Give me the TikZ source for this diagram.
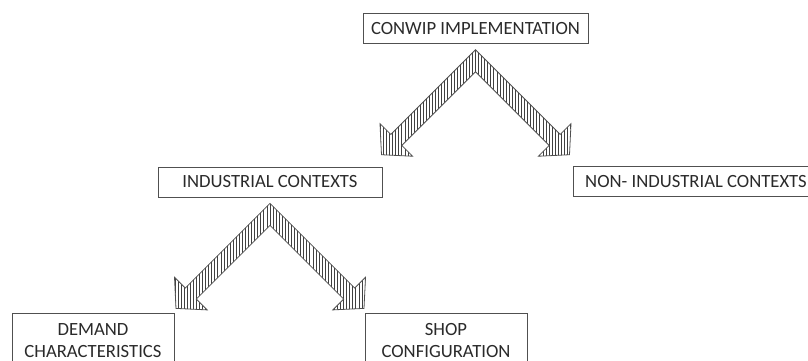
\documentclass[tikz,border=0pt]{standalone}
\usepackage{fontspec}
\setmainfont{Carlito}
\usetikzlibrary{positioning,calc,patterns.meta}

\definecolor{boxline}{HTML}{505050}
\definecolor{boxtext}{HTML}{2A2A2A}

\begin{document}
\begin{tikzpicture}[x=0.75pt,y=-0.75pt,
	every node/.style={font=\fontsize{14}{16.5}\selectfont,text=boxtext},
	topic/.style={draw=boxline,line width=0.6pt,inner sep=0pt,minimum height=23pt},
	subtopic/.style={draw=boxline,line width=0.6pt,anchor=north,align=center,
		text width=117.5pt,inner xsep=2pt,inner ysep=7.5pt},
	hatch/.style={draw=boxline,line width=0.6pt,line join=miter,
		pattern={Lines[angle=90,distance=2.3pt,line width=0.45pt]},pattern color=black!75},
	chevron/.pic={
		\draw[hatch] (0,-11) -- (-84.7,73.7) -- (-95.5,62.9) -- (-94,94)
			-- (-62.9,95.5) -- (-73.7,84.7) -- (0,11) -- (73.7,84.7)
			-- (62.9,95.5) -- (94,94) -- (95.5,62.9) -- (84.7,73.7) -- cycle;
	}]

	\useasboundingbox (0,0) rectangle (808,361);

	% Top level
	\node[topic,minimum width=168.75pt] (conwip) at (475.5,28.5) {CONWIP IMPLEMENTATION};

	% Contexts
	\node[topic,minimum width=168pt,minimum height=22.5pt] (industrial) at (270,182) {INDUSTRIAL CONTEXTS};
	\node[topic,minimum width=184.5pt] (nonindustrial) at (696,181.5) {NON- INDUSTRIAL CONTEXTS};

	% Industrial factors
	\node[subtopic] (demand) at (93,313) {DEMAND\\CHARACTERISTICS};
	\node[subtopic] (shop) at (446,313) {SHOP\\CONFIGURATION};

	% Block arrows
	\pic at ($(conwip.south)+(0,16.5)$) {chevron};
	\pic at ($(industrial.south)+(0,17)$) {chevron};

\end{tikzpicture}
\end{document}
